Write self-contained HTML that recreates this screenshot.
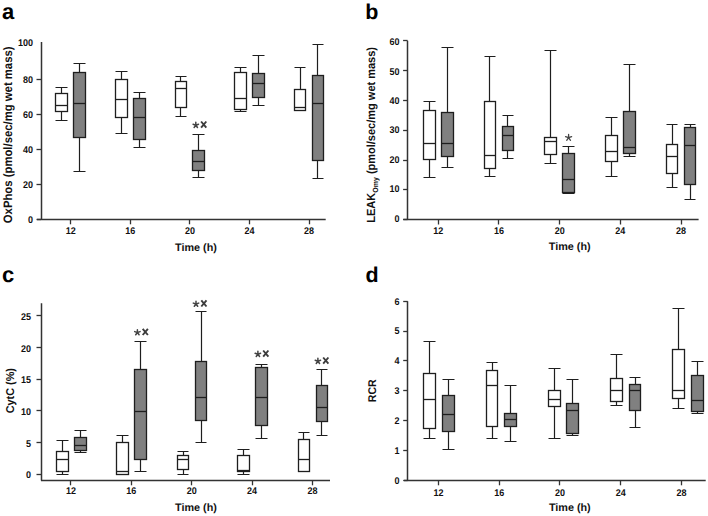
<!DOCTYPE html>
<html><head><meta charset="utf-8"><style>
html,body{margin:0;padding:0;background:#fff;}
svg{display:block;font-family:"Liberation Sans", sans-serif;}
text{text-rendering:geometricPrecision;}
</style></head><body>
<svg width="708" height="516" viewBox="0 0 708 516">
<rect width="708" height="516" fill="#fff"/>
<path d="M41.5 42V219.5M37 219.5H325.7" stroke="#333" stroke-width="1.5" fill="none"/><path d="M36.5 219.5H41" stroke="#333" stroke-width="1.3"/><text transform="translate(33 223.3) scale(0.93 1)" font-size="9.7" text-anchor="end" font-weight="bold" fill="#111" >0</text><path d="M36.5 184.5H41" stroke="#333" stroke-width="1.3"/><text transform="translate(33 188.2) scale(0.93 1)" font-size="9.7" text-anchor="end" font-weight="bold" fill="#111" >20</text><path d="M36.5 149.5H41" stroke="#333" stroke-width="1.3"/><text transform="translate(33 153.1) scale(0.93 1)" font-size="9.7" text-anchor="end" font-weight="bold" fill="#111" >40</text><path d="M36.5 114.5H41" stroke="#333" stroke-width="1.3"/><text transform="translate(33 118) scale(0.93 1)" font-size="9.7" text-anchor="end" font-weight="bold" fill="#111" >60</text><path d="M36.5 79.5H41" stroke="#333" stroke-width="1.3"/><text transform="translate(33 82.9) scale(0.93 1)" font-size="9.7" text-anchor="end" font-weight="bold" fill="#111" >80</text><text transform="translate(33 46.2) scale(0.93 1)" font-size="9.7" text-anchor="end" font-weight="bold" fill="#111" >100</text><path d="M70.5 219.5V224.3" stroke="#333" stroke-width="1.3"/><text transform="translate(70.8 234.1) scale(0.93 1)" font-size="9.7" text-anchor="middle" font-weight="bold" fill="#111" >12</text><path d="M61.5 87.5V93.5M61.5 111.5V120.5M55.5 87.5H67.5M55.5 120.5H67.5" stroke="#1e1e1e" stroke-width="1.2" fill="none"/><rect x="55.5" y="93.5" width="12" height="18" fill="#fff" stroke="#1e1e1e" stroke-width="1.3"/><path d="M55.5 105.5H67.5" stroke="#1e1e1e" stroke-width="1.3"/><path d="M79.5 63.5V72.5M79.5 137.5V171.5M73.5 63.5H85.5M73.5 171.5H85.5" stroke="#1e1e1e" stroke-width="1.2" fill="none"/><rect x="73.5" y="72.5" width="12" height="65" fill="#808080" stroke="#1e1e1e" stroke-width="1.3"/><path d="M73.5 103.5H85.5" stroke="#1e1e1e" stroke-width="1.3"/><path d="M130.5 219.5V224.3" stroke="#333" stroke-width="1.3"/><text transform="translate(130.35 234.1) scale(0.93 1)" font-size="9.7" text-anchor="middle" font-weight="bold" fill="#111" >16</text><path d="M121.5 71.5V79.5M121.5 117.5V133.5M115.5 71.5H127.5M115.5 133.5H127.5" stroke="#1e1e1e" stroke-width="1.2" fill="none"/><rect x="115.5" y="79.5" width="12" height="38" fill="#fff" stroke="#1e1e1e" stroke-width="1.3"/><path d="M115.5 99.5H127.5" stroke="#1e1e1e" stroke-width="1.3"/><path d="M139.5 92.5V98.5M139.5 139.5V147.5M133.5 92.5H145.5M133.5 147.5H145.5" stroke="#1e1e1e" stroke-width="1.2" fill="none"/><rect x="133.5" y="98.5" width="12" height="41" fill="#808080" stroke="#1e1e1e" stroke-width="1.3"/><path d="M133.5 117.5H145.5" stroke="#1e1e1e" stroke-width="1.3"/><path d="M189.5 219.5V224.3" stroke="#333" stroke-width="1.3"/><text transform="translate(189.9 234.1) scale(0.93 1)" font-size="9.7" text-anchor="middle" font-weight="bold" fill="#111" >20</text><path d="M180.5 76.5V81.5M180.5 107.5V116.5M175.5 76.5H186.5M175.5 116.5H186.5" stroke="#1e1e1e" stroke-width="1.2" fill="none"/><rect x="175.5" y="81.5" width="11" height="26" fill="#fff" stroke="#1e1e1e" stroke-width="1.3"/><path d="M175.5 88.5H186.5" stroke="#1e1e1e" stroke-width="1.3"/><path d="M198.5 134.5V150.5M198.5 170.5V177.5M192.5 134.5H204.5M192.5 177.5H204.5" stroke="#1e1e1e" stroke-width="1.2" fill="none"/><rect x="192.5" y="150.5" width="12" height="20" fill="#808080" stroke="#1e1e1e" stroke-width="1.3"/><path d="M192.5 161.5H204.5" stroke="#1e1e1e" stroke-width="1.3"/><path d="M249.5 219.5V224.3" stroke="#333" stroke-width="1.3"/><text transform="translate(249.45 234.1) scale(0.93 1)" font-size="9.7" text-anchor="middle" font-weight="bold" fill="#111" >24</text><path d="M240.5 67.5V72.5M240.5 109.5V111.5M234.5 67.5H246.5M234.5 111.5H246.5" stroke="#1e1e1e" stroke-width="1.2" fill="none"/><rect x="234.5" y="72.5" width="12" height="37" fill="#fff" stroke="#1e1e1e" stroke-width="1.3"/><path d="M234.5 98.5H246.5" stroke="#1e1e1e" stroke-width="1.3"/><path d="M258.5 55.5V73.5M258.5 97.5V105.5M252.5 55.5H264.5M252.5 105.5H264.5" stroke="#1e1e1e" stroke-width="1.2" fill="none"/><rect x="252.5" y="73.5" width="12" height="24" fill="#808080" stroke="#1e1e1e" stroke-width="1.3"/><path d="M252.5 83.5H264.5" stroke="#1e1e1e" stroke-width="1.3"/><path d="M309.5 219.5V224.3" stroke="#333" stroke-width="1.3"/><text transform="translate(309 234.1) scale(0.93 1)" font-size="9.7" text-anchor="middle" font-weight="bold" fill="#111" >28</text><path d="M300.5 67.5V89.5M300.5 110.5V110.5M294.5 67.5H305.5M294.5 110.5H305.5" stroke="#1e1e1e" stroke-width="1.2" fill="none"/><rect x="294.5" y="89.5" width="11" height="21" fill="#fff" stroke="#1e1e1e" stroke-width="1.3"/><path d="M294.5 107.5H305.5" stroke="#1e1e1e" stroke-width="1.3"/><path d="M317.5 44.5V75.5M317.5 160.5V178.5M312.5 44.5H323.5M312.5 178.5H323.5" stroke="#1e1e1e" stroke-width="1.2" fill="none"/><rect x="312.5" y="75.5" width="11" height="85" fill="#808080" stroke="#1e1e1e" stroke-width="1.3"/><path d="M312.5 103.5H323.5" stroke="#1e1e1e" stroke-width="1.3"/><text x="1.9" y="18.8" font-size="22" text-anchor="start" font-weight="bold" fill="#000" >a</text><text x="196" y="250.7" font-size="10.8" text-anchor="middle" font-weight="bold" fill="#111" >Time (h)</text><text transform="translate(11.9 134.85) rotate(-90)" font-size="12.2" text-anchor="middle" font-weight="bold" fill="#111" textLength="176.7" lengthAdjust="spacingAndGlyphs">OxPhos (pmol/sec/mg wet mass)</text><path d="M407.5 40.7V219.5M403.4 219.5H698.6" stroke="#333" stroke-width="1.5" fill="none"/><path d="M403.1 219.5H407.6" stroke="#333" stroke-width="1.3"/><text transform="translate(399.5 221.5) scale(0.93 1)" font-size="9.7" text-anchor="end" font-weight="bold" fill="#111" >0</text><path d="M403.1 189.5H407.6" stroke="#333" stroke-width="1.3"/><text transform="translate(399.5 192.15) scale(0.93 1)" font-size="9.7" text-anchor="end" font-weight="bold" fill="#111" >10</text><path d="M403.1 160.5H407.6" stroke="#333" stroke-width="1.3"/><text transform="translate(399.5 162.8) scale(0.93 1)" font-size="9.7" text-anchor="end" font-weight="bold" fill="#111" >20</text><path d="M403.1 130.5H407.6" stroke="#333" stroke-width="1.3"/><text transform="translate(399.5 133.45) scale(0.93 1)" font-size="9.7" text-anchor="end" font-weight="bold" fill="#111" >30</text><path d="M403.1 100.5H407.6" stroke="#333" stroke-width="1.3"/><text transform="translate(399.5 104.1) scale(0.93 1)" font-size="9.7" text-anchor="end" font-weight="bold" fill="#111" >40</text><path d="M403.1 70.5H407.6" stroke="#333" stroke-width="1.3"/><text transform="translate(399.5 74.75) scale(0.93 1)" font-size="9.7" text-anchor="end" font-weight="bold" fill="#111" >50</text><path d="M403.1 40.5H407.6" stroke="#333" stroke-width="1.3"/><text transform="translate(399.5 45.4) scale(0.93 1)" font-size="9.7" text-anchor="end" font-weight="bold" fill="#111" >60</text><path d="M438.5 219.7V224.5" stroke="#333" stroke-width="1.3"/><text transform="translate(438.2 233.9) scale(0.93 1)" font-size="9.7" text-anchor="middle" font-weight="bold" fill="#111" >12</text><path d="M429.5 101.5V110.5M429.5 159.5V177.5M423.5 101.5H435.5M423.5 177.5H435.5" stroke="#1e1e1e" stroke-width="1.2" fill="none"/><rect x="423.5" y="110.5" width="12" height="49" fill="#fff" stroke="#1e1e1e" stroke-width="1.3"/><path d="M423.5 143.5H435.5" stroke="#1e1e1e" stroke-width="1.3"/><path d="M447.5 47.5V112.5M447.5 156.5V167.5M441.5 47.5H453.5M441.5 167.5H453.5" stroke="#1e1e1e" stroke-width="1.2" fill="none"/><rect x="441.5" y="112.5" width="12" height="44" fill="#808080" stroke="#1e1e1e" stroke-width="1.3"/><path d="M441.5 143.5H453.5" stroke="#1e1e1e" stroke-width="1.3"/><path d="M498.5 219.7V224.5" stroke="#333" stroke-width="1.3"/><text transform="translate(498.92 233.9) scale(0.93 1)" font-size="9.7" text-anchor="middle" font-weight="bold" fill="#111" >16</text><path d="M489.5 56.5V101.5M489.5 168.5V176.5M484.5 56.5H495.5M484.5 176.5H495.5" stroke="#1e1e1e" stroke-width="1.2" fill="none"/><rect x="484.5" y="101.5" width="11" height="67" fill="#fff" stroke="#1e1e1e" stroke-width="1.3"/><path d="M484.5 155.5H495.5" stroke="#1e1e1e" stroke-width="1.3"/><path d="M507.5 115.5V126.5M507.5 150.5V158.5M502.5 115.5H513.5M502.5 158.5H513.5" stroke="#1e1e1e" stroke-width="1.2" fill="none"/><rect x="502.5" y="126.5" width="11" height="24" fill="#808080" stroke="#1e1e1e" stroke-width="1.3"/><path d="M502.5 135.5H513.5" stroke="#1e1e1e" stroke-width="1.3"/><path d="M559.5 219.7V224.5" stroke="#333" stroke-width="1.3"/><text transform="translate(559.64 233.9) scale(0.93 1)" font-size="9.7" text-anchor="middle" font-weight="bold" fill="#111" >20</text><path d="M550.5 50.5V137.5M550.5 154.5V163.5M544.5 50.5H556.5M544.5 163.5H556.5" stroke="#1e1e1e" stroke-width="1.2" fill="none"/><rect x="544.5" y="137.5" width="12" height="17" fill="#fff" stroke="#1e1e1e" stroke-width="1.3"/><path d="M544.5 141.5H556.5" stroke="#1e1e1e" stroke-width="1.3"/><path d="M568.5 146.5V153.5M568.5 192.5V193.5M562.5 146.5H574.5M562.5 193.5H574.5" stroke="#1e1e1e" stroke-width="1.2" fill="none"/><rect x="562.5" y="153.5" width="12" height="39" fill="#808080" stroke="#1e1e1e" stroke-width="1.3"/><path d="M562.5 179.5H574.5" stroke="#1e1e1e" stroke-width="1.3"/><path d="M620.5 219.7V224.5" stroke="#333" stroke-width="1.3"/><text transform="translate(620.36 233.9) scale(0.93 1)" font-size="9.7" text-anchor="middle" font-weight="bold" fill="#111" >24</text><path d="M611.5 117.5V135.5M611.5 161.5V176.5M605.5 117.5H617.5M605.5 176.5H617.5" stroke="#1e1e1e" stroke-width="1.2" fill="none"/><rect x="605.5" y="135.5" width="12" height="26" fill="#fff" stroke="#1e1e1e" stroke-width="1.3"/><path d="M605.5 151.5H617.5" stroke="#1e1e1e" stroke-width="1.3"/><path d="M629.5 64.5V111.5M629.5 153.5V156.5M623.5 64.5H635.5M623.5 156.5H635.5" stroke="#1e1e1e" stroke-width="1.2" fill="none"/><rect x="623.5" y="111.5" width="12" height="42" fill="#808080" stroke="#1e1e1e" stroke-width="1.3"/><path d="M623.5 147.5H635.5" stroke="#1e1e1e" stroke-width="1.3"/><path d="M681.5 219.7V224.5" stroke="#333" stroke-width="1.3"/><text transform="translate(681.08 233.9) scale(0.93 1)" font-size="9.7" text-anchor="middle" font-weight="bold" fill="#111" >28</text><path d="M672.5 124.5V144.5M672.5 173.5V187.5M666.5 124.5H677.5M666.5 187.5H677.5" stroke="#1e1e1e" stroke-width="1.2" fill="none"/><rect x="666.5" y="144.5" width="11" height="29" fill="#fff" stroke="#1e1e1e" stroke-width="1.3"/><path d="M666.5 156.5H677.5" stroke="#1e1e1e" stroke-width="1.3"/><path d="M690.5 124.5V127.5M690.5 184.5V199.5M684.5 124.5H695.5M684.5 199.5H695.5" stroke="#1e1e1e" stroke-width="1.2" fill="none"/><rect x="684.5" y="127.5" width="11" height="57" fill="#808080" stroke="#1e1e1e" stroke-width="1.3"/><path d="M684.5 145.5H695.5" stroke="#1e1e1e" stroke-width="1.3"/><text x="365.3" y="19.1" font-size="21.5" text-anchor="start" font-weight="bold" fill="#000" >b</text><text x="569.7" y="250.1" font-size="10.8" text-anchor="middle" font-weight="bold" fill="#111" >Time (h)</text><text transform="translate(375.1 134.85) rotate(-90)" font-size="11.8" text-anchor="middle" font-weight="bold" fill="#111" textLength="175.7" lengthAdjust="spacingAndGlyphs">LEAK<tspan font-size="7.5" dy="2.5">Omy</tspan><tspan dy="-2.5"> (pmol/sec/mg wet mass)</tspan></text><path d="M41.5 303.3V480.5M41 480.5H330" stroke="#333" stroke-width="1.5" fill="none"/><path d="M36.5 474.5H41" stroke="#333" stroke-width="1.3"/><text transform="translate(31 478.4) scale(0.93 1)" font-size="9.7" text-anchor="end" font-weight="bold" fill="#111" >0</text><path d="M36.5 442.5H41" stroke="#333" stroke-width="1.3"/><text transform="translate(31 446.72) scale(0.93 1)" font-size="9.7" text-anchor="end" font-weight="bold" fill="#111" >5</text><path d="M36.5 410.5H41" stroke="#333" stroke-width="1.3"/><text transform="translate(31 415.04) scale(0.93 1)" font-size="9.7" text-anchor="end" font-weight="bold" fill="#111" >10</text><path d="M36.5 379.5H41" stroke="#333" stroke-width="1.3"/><text transform="translate(31 383.36) scale(0.93 1)" font-size="9.7" text-anchor="end" font-weight="bold" fill="#111" >15</text><path d="M36.5 347.5H41" stroke="#333" stroke-width="1.3"/><text transform="translate(31 351.68) scale(0.93 1)" font-size="9.7" text-anchor="end" font-weight="bold" fill="#111" >20</text><path d="M36.5 315.5H41" stroke="#333" stroke-width="1.3"/><text transform="translate(31 320) scale(0.93 1)" font-size="9.7" text-anchor="end" font-weight="bold" fill="#111" >25</text><path d="M70.5 480.5V485.3" stroke="#333" stroke-width="1.3"/><text transform="translate(70.9 494) scale(0.93 1)" font-size="9.7" text-anchor="middle" font-weight="bold" fill="#111" >12</text><path d="M62.5 440.5V451.5M62.5 471.5V474.5M56.5 440.5H68.5M56.5 474.5H68.5" stroke="#1e1e1e" stroke-width="1.2" fill="none"/><rect x="56.5" y="451.5" width="12" height="20" fill="#fff" stroke="#1e1e1e" stroke-width="1.3"/><path d="M56.5 459.5H68.5" stroke="#1e1e1e" stroke-width="1.3"/><path d="M80.5 430.5V437.5M80.5 450.5V452.5M74.5 430.5H86.5M74.5 452.5H86.5" stroke="#1e1e1e" stroke-width="1.2" fill="none"/><rect x="74.5" y="437.5" width="12" height="13" fill="#808080" stroke="#1e1e1e" stroke-width="1.3"/><path d="M74.5 445.5H86.5" stroke="#1e1e1e" stroke-width="1.3"/><path d="M131.5 480.5V485.3" stroke="#333" stroke-width="1.3"/><text transform="translate(131.3 494) scale(0.93 1)" font-size="9.7" text-anchor="middle" font-weight="bold" fill="#111" >16</text><path d="M122.5 435.5V442.5M122.5 474.5V474.5M116.5 435.5H128.5M116.5 474.5H128.5" stroke="#1e1e1e" stroke-width="1.2" fill="none"/><rect x="116.5" y="442.5" width="12" height="32" fill="#fff" stroke="#1e1e1e" stroke-width="1.3"/><path d="M116.5 471.5H128.5" stroke="#1e1e1e" stroke-width="1.3"/><path d="M140.5 341.5V369.5M140.5 459.5V471.5M134.5 341.5H146.5M134.5 471.5H146.5" stroke="#1e1e1e" stroke-width="1.2" fill="none"/><rect x="134.5" y="369.5" width="12" height="90" fill="#808080" stroke="#1e1e1e" stroke-width="1.3"/><path d="M134.5 411.5H146.5" stroke="#1e1e1e" stroke-width="1.3"/><path d="M191.5 480.5V485.3" stroke="#333" stroke-width="1.3"/><text transform="translate(191.7 494) scale(0.93 1)" font-size="9.7" text-anchor="middle" font-weight="bold" fill="#111" >20</text><path d="M183.5 451.5V455.5M183.5 469.5V474.5M177.5 451.5H188.5M177.5 474.5H188.5" stroke="#1e1e1e" stroke-width="1.2" fill="none"/><rect x="177.5" y="455.5" width="11" height="14" fill="#fff" stroke="#1e1e1e" stroke-width="1.3"/><path d="M177.5 459.5H188.5" stroke="#1e1e1e" stroke-width="1.3"/><path d="M201.5 311.5V361.5M201.5 420.5V442.5M195.5 311.5H206.5M195.5 442.5H206.5" stroke="#1e1e1e" stroke-width="1.2" fill="none"/><rect x="195.5" y="361.5" width="11" height="59" fill="#808080" stroke="#1e1e1e" stroke-width="1.3"/><path d="M195.5 397.5H206.5" stroke="#1e1e1e" stroke-width="1.3"/><path d="M252.5 480.5V485.3" stroke="#333" stroke-width="1.3"/><text transform="translate(252.1 494) scale(0.93 1)" font-size="9.7" text-anchor="middle" font-weight="bold" fill="#111" >24</text><path d="M243.5 449.5V455.5M243.5 471.5V474.5M237.5 449.5H249.5M237.5 474.5H249.5" stroke="#1e1e1e" stroke-width="1.2" fill="none"/><rect x="237.5" y="455.5" width="12" height="16" fill="#fff" stroke="#1e1e1e" stroke-width="1.3"/><path d="M237.5 470.5H249.5" stroke="#1e1e1e" stroke-width="1.3"/><path d="M261.5 364.5V367.5M261.5 425.5V438.5M255.5 364.5H267.5M255.5 438.5H267.5" stroke="#1e1e1e" stroke-width="1.2" fill="none"/><rect x="255.5" y="367.5" width="12" height="58" fill="#808080" stroke="#1e1e1e" stroke-width="1.3"/><path d="M255.5 397.5H267.5" stroke="#1e1e1e" stroke-width="1.3"/><path d="M312.5 480.5V485.3" stroke="#333" stroke-width="1.3"/><text transform="translate(312.5 494) scale(0.93 1)" font-size="9.7" text-anchor="middle" font-weight="bold" fill="#111" >28</text><path d="M303.5 432.5V439.5M303.5 471.5V471.5M298.5 432.5H309.5M298.5 471.5H309.5" stroke="#1e1e1e" stroke-width="1.2" fill="none"/><rect x="298.5" y="439.5" width="11" height="32" fill="#fff" stroke="#1e1e1e" stroke-width="1.3"/><path d="M298.5 459.5H309.5" stroke="#1e1e1e" stroke-width="1.3"/><path d="M321.5 369.5V385.5M321.5 421.5V435.5M316.5 369.5H327.5M316.5 435.5H327.5" stroke="#1e1e1e" stroke-width="1.2" fill="none"/><rect x="316.5" y="385.5" width="11" height="36" fill="#808080" stroke="#1e1e1e" stroke-width="1.3"/><path d="M316.5 407.5H327.5" stroke="#1e1e1e" stroke-width="1.3"/><text x="1.9" y="282.3" font-size="22" text-anchor="start" font-weight="bold" fill="#000" >c</text><text x="196" y="510.8" font-size="10.8" text-anchor="middle" font-weight="bold" fill="#111" >Time (h)</text><text transform="translate(14.2 390.7) rotate(-90)" font-size="11.4" text-anchor="middle" font-weight="bold" fill="#111" textLength="45.2" lengthAdjust="spacingAndGlyphs">CytC (%)</text><path d="M407.5 301.3V480.5M404 480.5H705.7" stroke="#333" stroke-width="1.5" fill="none"/><path d="M403.2 480.5H407.7" stroke="#333" stroke-width="1.3"/><text transform="translate(399.5 483.6) scale(0.93 1)" font-size="9.7" text-anchor="end" font-weight="bold" fill="#111" >0</text><path d="M403.2 450.5H407.7" stroke="#333" stroke-width="1.3"/><text transform="translate(399.5 453.77) scale(0.93 1)" font-size="9.7" text-anchor="end" font-weight="bold" fill="#111" >1</text><path d="M403.2 420.5H407.7" stroke="#333" stroke-width="1.3"/><text transform="translate(399.5 423.94) scale(0.93 1)" font-size="9.7" text-anchor="end" font-weight="bold" fill="#111" >2</text><path d="M403.2 390.5H407.7" stroke="#333" stroke-width="1.3"/><text transform="translate(399.5 394.11) scale(0.93 1)" font-size="9.7" text-anchor="end" font-weight="bold" fill="#111" >3</text><path d="M403.2 360.5H407.7" stroke="#333" stroke-width="1.3"/><text transform="translate(399.5 364.28) scale(0.93 1)" font-size="9.7" text-anchor="end" font-weight="bold" fill="#111" >4</text><path d="M403.2 331.5H407.7" stroke="#333" stroke-width="1.3"/><text transform="translate(399.5 334.45) scale(0.93 1)" font-size="9.7" text-anchor="end" font-weight="bold" fill="#111" >5</text><path d="M403.2 301.5H407.7" stroke="#333" stroke-width="1.3"/><text transform="translate(399.5 304.62) scale(0.93 1)" font-size="9.7" text-anchor="end" font-weight="bold" fill="#111" >6</text><path d="M438.5 480.5V485.3" stroke="#333" stroke-width="1.3"/><text transform="translate(438.4 495.6) scale(0.93 1)" font-size="9.7" text-anchor="middle" font-weight="bold" fill="#111" >12</text><path d="M429.5 341.5V373.5M429.5 428.5V438.5M423.5 341.5H435.5M423.5 438.5H435.5" stroke="#1e1e1e" stroke-width="1.2" fill="none"/><rect x="423.5" y="373.5" width="12" height="55" fill="#fff" stroke="#1e1e1e" stroke-width="1.3"/><path d="M423.5 399.5H435.5" stroke="#1e1e1e" stroke-width="1.3"/><path d="M448.5 379.5V395.5M448.5 431.5V449.5M442.5 379.5H454.5M442.5 449.5H454.5" stroke="#1e1e1e" stroke-width="1.2" fill="none"/><rect x="442.5" y="395.5" width="12" height="36" fill="#808080" stroke="#1e1e1e" stroke-width="1.3"/><path d="M442.5 414.5H454.5" stroke="#1e1e1e" stroke-width="1.3"/><path d="M499.5 480.5V485.3" stroke="#333" stroke-width="1.3"/><text transform="translate(499.15 495.6) scale(0.93 1)" font-size="9.7" text-anchor="middle" font-weight="bold" fill="#111" >16</text><path d="M492.5 362.5V370.5M492.5 426.5V438.5M486.5 362.5H497.5M486.5 438.5H497.5" stroke="#1e1e1e" stroke-width="1.2" fill="none"/><rect x="486.5" y="370.5" width="11" height="56" fill="#fff" stroke="#1e1e1e" stroke-width="1.3"/><path d="M486.5 385.5H497.5" stroke="#1e1e1e" stroke-width="1.3"/><path d="M510.5 385.5V413.5M510.5 426.5V441.5M504.5 385.5H516.5M504.5 441.5H516.5" stroke="#1e1e1e" stroke-width="1.2" fill="none"/><rect x="504.5" y="413.5" width="12" height="13" fill="#808080" stroke="#1e1e1e" stroke-width="1.3"/><path d="M504.5 419.5H516.5" stroke="#1e1e1e" stroke-width="1.3"/><path d="M559.5 480.5V485.3" stroke="#333" stroke-width="1.3"/><text transform="translate(559.9 495.6) scale(0.93 1)" font-size="9.7" text-anchor="middle" font-weight="bold" fill="#111" >20</text><path d="M554.5 368.5V390.5M554.5 406.5V438.5M548.5 368.5H560.5M548.5 438.5H560.5" stroke="#1e1e1e" stroke-width="1.2" fill="none"/><rect x="548.5" y="390.5" width="12" height="16" fill="#fff" stroke="#1e1e1e" stroke-width="1.3"/><path d="M548.5 399.5H560.5" stroke="#1e1e1e" stroke-width="1.3"/><path d="M572.5 379.5V403.5M572.5 433.5V435.5M566.5 379.5H578.5M566.5 435.5H578.5" stroke="#1e1e1e" stroke-width="1.2" fill="none"/><rect x="566.5" y="403.5" width="12" height="30" fill="#808080" stroke="#1e1e1e" stroke-width="1.3"/><path d="M566.5 410.5H578.5" stroke="#1e1e1e" stroke-width="1.3"/><path d="M620.5 480.5V485.3" stroke="#333" stroke-width="1.3"/><text transform="translate(620.65 495.6) scale(0.93 1)" font-size="9.7" text-anchor="middle" font-weight="bold" fill="#111" >24</text><path d="M616.5 354.5V378.5M616.5 401.5V405.5M610.5 354.5H622.5M610.5 405.5H622.5" stroke="#1e1e1e" stroke-width="1.2" fill="none"/><rect x="610.5" y="378.5" width="12" height="23" fill="#fff" stroke="#1e1e1e" stroke-width="1.3"/><path d="M610.5 390.5H622.5" stroke="#1e1e1e" stroke-width="1.3"/><path d="M635.5 377.5V384.5M635.5 410.5V427.5M629.5 377.5H640.5M629.5 427.5H640.5" stroke="#1e1e1e" stroke-width="1.2" fill="none"/><rect x="629.5" y="384.5" width="11" height="26" fill="#808080" stroke="#1e1e1e" stroke-width="1.3"/><path d="M629.5 390.5H640.5" stroke="#1e1e1e" stroke-width="1.3"/><path d="M681.5 480.5V485.3" stroke="#333" stroke-width="1.3"/><text transform="translate(681.4 495.6) scale(0.93 1)" font-size="9.7" text-anchor="middle" font-weight="bold" fill="#111" >28</text><path d="M678.5 308.5V349.5M678.5 398.5V408.5M672.5 308.5H684.5M672.5 408.5H684.5" stroke="#1e1e1e" stroke-width="1.2" fill="none"/><rect x="672.5" y="349.5" width="12" height="49" fill="#fff" stroke="#1e1e1e" stroke-width="1.3"/><path d="M672.5 390.5H684.5" stroke="#1e1e1e" stroke-width="1.3"/><path d="M697.5 361.5V375.5M697.5 411.5V413.5M691.5 361.5H703.5M691.5 413.5H703.5" stroke="#1e1e1e" stroke-width="1.2" fill="none"/><rect x="691.5" y="375.5" width="12" height="36" fill="#808080" stroke="#1e1e1e" stroke-width="1.3"/><path d="M691.5 400.5H703.5" stroke="#1e1e1e" stroke-width="1.3"/><text x="365.6" y="281.6" font-size="21.5" text-anchor="start" font-weight="bold" fill="#000" >d</text><text x="569.8" y="511.1" font-size="10.8" text-anchor="middle" font-weight="bold" fill="#111" >Time (h)</text><text transform="translate(376.2 390.75) rotate(-90)" font-size="11.2" text-anchor="middle" font-weight="bold" fill="#111" textLength="22.9" lengthAdjust="spacingAndGlyphs">RCR</text><path d="M195.8 125.2L195.8 122.35M195.8 125.2L198.51 124.32M195.8 125.2L197.48 127.51M195.8 125.2L194.12 127.51M195.8 125.2L193.09 124.32" stroke="#444" stroke-width="1.5" stroke-linecap="round" fill="none"/><path d="M201.1 121.5L206.3 127.7M206.3 121.5L201.1 127.7" stroke="#3c3c3c" stroke-width="1.9" fill="none"/><path d="M137.4 332.5L137.4 329.65M137.4 332.5L140.11 331.62M137.4 332.5L139.08 334.81M137.4 332.5L135.72 334.81M137.4 332.5L134.69 331.62" stroke="#444" stroke-width="1.5" stroke-linecap="round" fill="none"/><path d="M142.7 328.8L147.9 335M147.9 328.8L142.7 335" stroke="#3c3c3c" stroke-width="1.9" fill="none"/><path d="M196 304L196 301.15M196 304L198.71 303.12M196 304L197.68 306.31M196 304L194.32 306.31M196 304L193.29 303.12" stroke="#444" stroke-width="1.5" stroke-linecap="round" fill="none"/><path d="M201.3 300.3L206.5 306.5M206.5 300.3L201.3 306.5" stroke="#3c3c3c" stroke-width="1.9" fill="none"/><path d="M257.9 354.2L257.9 351.35M257.9 354.2L260.61 353.32M257.9 354.2L259.58 356.51M257.9 354.2L256.22 356.51M257.9 354.2L255.19 353.32" stroke="#444" stroke-width="1.5" stroke-linecap="round" fill="none"/><path d="M263.2 350.5L268.4 356.7M268.4 350.5L263.2 356.7" stroke="#3c3c3c" stroke-width="1.9" fill="none"/><path d="M317.9 361.2L317.9 358.35M317.9 361.2L320.61 360.32M317.9 361.2L319.58 363.51M317.9 361.2L316.22 363.51M317.9 361.2L315.19 360.32" stroke="#444" stroke-width="1.5" stroke-linecap="round" fill="none"/><path d="M323.2 357.5L328.4 363.7M328.4 357.5L323.2 363.7" stroke="#3c3c3c" stroke-width="1.9" fill="none"/><path d="M568.6 137.7L568.6 134.5M568.6 137.7L571.64 136.71M568.6 137.7L570.48 140.29M568.6 137.7L566.72 140.29M568.6 137.7L565.56 136.71" stroke="#444" stroke-width="1.3" stroke-linecap="round" fill="none"/>
</svg>
</body></html>
